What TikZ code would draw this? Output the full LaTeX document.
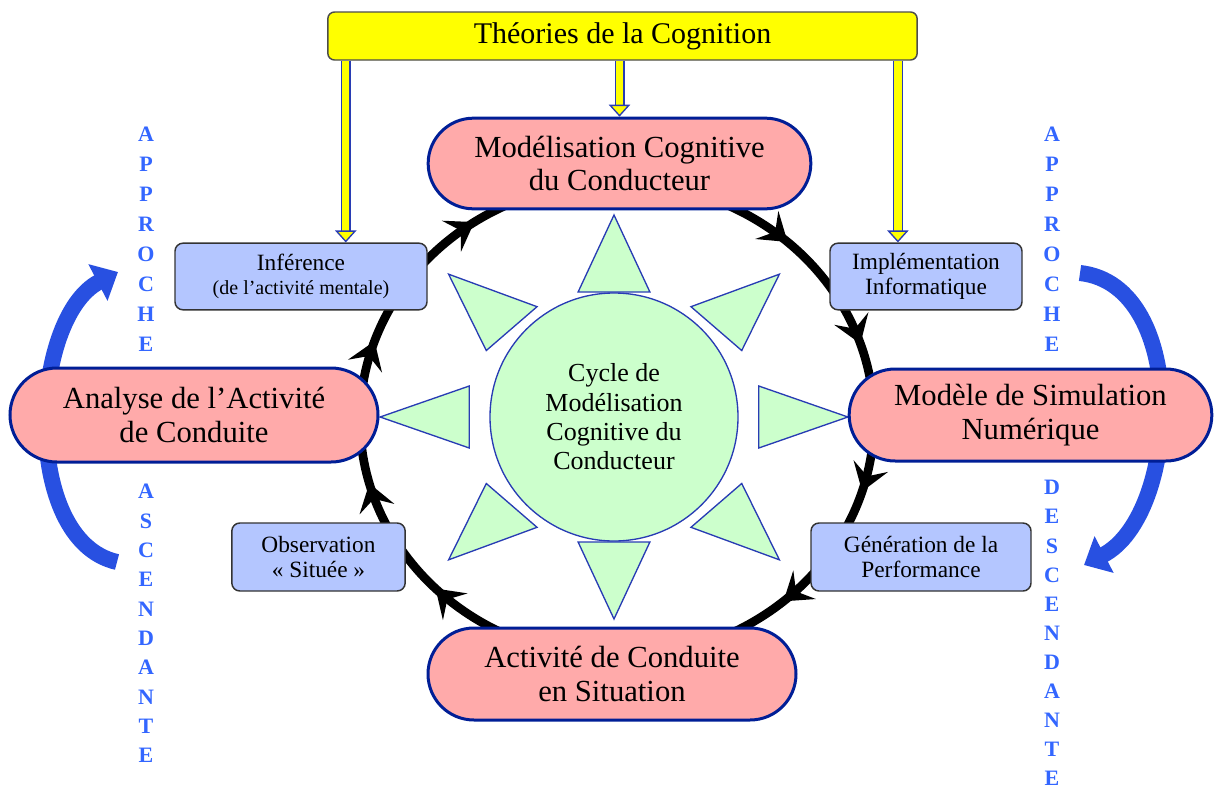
\documentclass[tikz,border=0pt]{standalone}
\usepackage{fontspec}
\setmainfont{Liberation Serif}
\usetikzlibrary{shapes.misc,arrows.meta,decorations.markings}

\definecolor{pillred}{RGB}{255,170,170}
\definecolor{pilledge}{RGB}{0,30,150}
\definecolor{boxblue}{RGB}{180,198,255}
\definecolor{cyclegreen}{RGB}{204,255,204}
\definecolor{rayedge}{RGB}{40,60,180}
\definecolor{lettblue}{RGB}{51,102,255}
\definecolor{sweepblue}{RGB}{40,80,225}
\definecolor{theoyellow}{RGB}{255,255,0}

\tikzset{every picture/.style={line width=0.75pt}}

\begin{document}
\begin{tikzpicture}[x=0.75pt,y=0.75pt,yscale=-1,xscale=1,
  pill/.style={rounded rectangle, draw=pilledge, fill=pillred, line width=2.25pt, align=center, inner sep=0pt, font=\fontsize{23}{25}\selectfont},
  stage/.style={rectangle, rounded corners=6pt, draw=black!80, fill=boxblue, line width=1.1pt, align=center, inner sep=0pt, font=\fontsize{17.5}{18.5}\selectfont},
  ray/.style={draw=rayedge, fill=cyclegreen, line width=1pt},
  ring/.style={line width=6.5pt, postaction={decorate}, decoration={markings, mark=at position #1 with {\arrow{Stealth[length=20pt,width=27pt,inset=8pt]}}}},
  feed/.style={draw=rayedge, double=theoyellow, double distance=5.5pt, line width=1pt, -{Triangle[length=9pt,width=16pt,fill=theoyellow]}},
  sweep/.style={sweepblue, line width=12pt, -{Triangle[length=17pt,width=30pt]}},
  vlet/.style={text=lettblue, align=center, inner sep=0pt, font=\fontsize{16.5}{22.5}\selectfont\bfseries},
]
\useasboundingbox (0,0) rectangle (1214,789);

% cycle ring
\coordinate (ctr) at (617,420);
\path (ctr) ++(90:257 and 238) coordinate (rAct);
\path (ctr) ++(148:257 and 238) coordinate (rObs);
\path (ctr) ++(180:257 and 238) coordinate (rAna);
\path (ctr) ++(215:257 and 238) coordinate (rInf);
\path (ctr) ++(270:257 and 238) coordinate (rMod);
\path (ctr) ++(330:257 and 238) coordinate (rImp);
\path (ctr) ++(0:257 and 238) coordinate (rSim);
\path (ctr) ++(30:257 and 238) coordinate (rGen);
\draw[ring=0.78] (rAct) arc[start angle=90, end angle=148, x radius=257, y radius=238];
\draw[ring=0.52] (rObs) arc[start angle=148, end angle=180, x radius=257, y radius=238];
\draw[ring=0.55] (rAna) arc[start angle=180, end angle=215, x radius=257, y radius=238];
\draw[ring=0.38] (rInf) arc[start angle=215, end angle=270, x radius=257, y radius=238];
\draw[ring=0.70] (rMod) arc[start angle=270, end angle=330, x radius=257, y radius=238];
\draw[ring=0.38] (rImp) arc[start angle=330, end angle=360, x radius=257, y radius=238];
\draw[ring=0.58] (rSim) arc[start angle=0, end angle=30, x radius=257, y radius=238];
\draw[ring=0.32] (rGen) arc[start angle=30, end angle=90, x radius=257, y radius=238];

% ascending / descending sweeps
\coordinate (ascTail) at (117,562);
\coordinate (ascTip) at (118,272);
\draw[sweep] (ascTail) .. controls (20,540) and (30,318) .. (ascTip);
\coordinate (desTail) at (1080,273);
\coordinate (desTip) at (1084,565);
\draw[sweep] (desTail) .. controls (1190,285) and (1180,515) .. (desTip);

% rays round the centre
\begin{scope}[shift={(614,417)}, xscale=1.158]
\foreach \a in {0,45,...,315}
  \draw[ray, rotate=\a] (202,0) -- (125,31) -- (125,-31) -- cycle;
\end{scope}

% Text Node
\node[circle, draw=rayedge, fill=cyclegreen, line width=1pt, minimum size=186pt, inner sep=0pt, align=center, font=\fontsize{19.5}{22}\selectfont] (cyc) at (614,417) {Cycle de\\Modélisation\\Cognitive du\\Conducteur};

% Text Node
\node[rectangle, rounded corners=5pt, draw=black!70, fill=theoyellow, line width=1.1pt, minimum width=442pt, minimum height=36pt, inner sep=0pt, font=\fontsize{22.5}{24}\selectfont] (theo) at (622.5,36) {Théories de la Cognition};

% Text Node
\node[pill, minimum width=287pt, minimum height=68pt] (mod) at (619.5,163.5) {Modélisation Cognitive\\du Conducteur};
% Text Node
\node[pill, minimum width=276pt, minimum height=70.5pt] (ana) at (194,415) {Analyse de l’Activité\\de Conduite};
% Text Node
\node[pill, minimum width=272pt, minimum height=69pt] (sim) at (1030.5,415) {Modèle de Simulation\\Numérique};
% Text Node
\node[pill, minimum width=276pt, minimum height=69pt] (act) at (612,674) {Activité de Conduite\\en Situation};

% Text Node
\node[stage, minimum width=189pt, minimum height=50pt] (inf) at (301,276.5) {Inférence\\{\fontsize{15}{17}\selectfont (de l’activité mentale)}};
% Text Node
\node[stage, minimum width=144pt, minimum height=50pt] (imp) at (926,276.5) {Implémentation\\Informatique};
% Text Node
\node[stage, minimum width=130pt, minimum height=51pt] (obs) at (318.5,557) {Observation\\«~Située~»};
% Text Node
\node[stage, minimum width=165pt, minimum height=51pt] (gen) at (921,557) {Génération de la\\Performance};

% theory feeds
\draw[feed] ([xshift=14pt]theo.south west) -- ([xshift=14pt]theo.south west |- inf.north);
\draw[feed] (theo.south -| mod.north) -- (mod.north);
\draw[feed] ([xshift=-15pt]theo.south east) -- ([xshift=-15pt]theo.south east |- imp.north);

% Text Node
\node[vlet] (apL) at (146,239) {A\\P\\P\\R\\O\\C\\H\\E};
\node[vlet, font=\fontsize{16.5}{22}\selectfont\bfseries] (ascL) at (146,623.5) {A\\S\\C\\E\\N\\D\\A\\N\\T\\E};
\node[vlet] (apR) at (1052,239) {A\\P\\P\\R\\O\\C\\H\\E};
\node[vlet, font=\fontsize{16.5}{21.8}\selectfont\bfseries] (desR) at (1052,633) {D\\E\\S\\C\\E\\N\\D\\A\\N\\T\\E};

\end{tikzpicture}
\end{document}
